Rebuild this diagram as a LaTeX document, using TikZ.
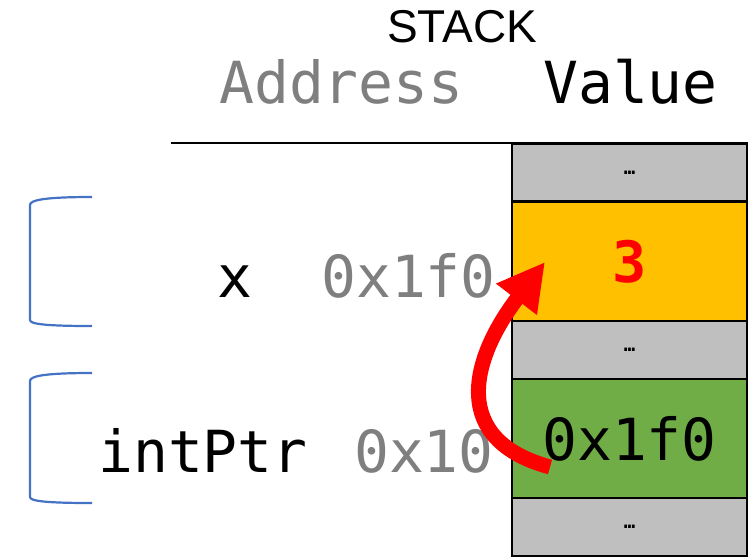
\documentclass[tikz,border=0pt]{standalone}
\usepackage{fontspec}
\setmainfont{Liberation Sans}
\newfontfamily\monof{DejaVu Sans Mono}
\usetikzlibrary{arrows.meta}
\definecolor{cellgray}{HTML}{BFBFBF}
\definecolor{cellorange}{HTML}{FFC000}
\definecolor{cellgreen}{HTML}{70AD47}
\definecolor{addrgray}{HTML}{7F7F7F}
\definecolor{brblue}{HTML}{4472C4}
\begin{document}
\begin{tikzpicture}[x=1pt,y=-1pt,
  cell/.style={draw=black,line width=2.5pt,minimum width=235pt,inner sep=0pt,font=\monof\fontsize{58}{60}\selectfont},
  dotcell/.style={cell,fill=cellgray,minimum height=58pt,font=\monof\bfseries\fontsize{19}{20}\selectfont},
  bigmono/.style={inner sep=0pt,font=\monof\fontsize{58}{60}\selectfont},
  addr/.style={bigmono,text=addrgray},
  brace/.style={draw=brblue,line width=2.2pt},
  ptr/.style={draw=red,line width=15pt,-{Triangle[length=47pt,width=48pt]}}]
\useasboundingbox (0,0) rectangle (755,558);
% title
\node[inner sep=0pt,anchor=base,font=\fontsize{46}{48}\selectfont] (title) at (462,42) {STACK};
\node[addr,anchor=base west] (haddr) at (219,103) {Address};
\node[bigmono,anchor=base west] (hval) at (543,103) {Value};
% separator
\coordinate (sepL) at (171,143);
\coordinate (sepR) at (512,143);
\draw[line width=2pt] (sepL) -- (sepR);
% cells
\node[dotcell] (c1) at (629.5,172.5) {…};
\node[cell,fill=cellorange,minimum height=119pt,text=red,font=\monof\bfseries\fontsize{57}{59}\selectfont] (c2) at (629.5,261.5) {3};
\node[dotcell] (c3) at (629.5,350) {…};
\node[cell,fill=cellgreen,minimum height=119pt] (c4) at (629.5,438.5) {0x1f0};
\node[dotcell] (c5) at (629.5,527) {…};
% labels
\node[bigmono,anchor=base west] (xname) at (217,297) {x};
\node[addr,anchor=base east] (xaddr) at (496,297) {0x1f0};
\node[bigmono,anchor=base west] (pname) at (98,472) {intPtr};
\node[addr,anchor=base east] (paddr) at (494,472) {0x10};
% brackets
\draw[brace] (92,197) .. controls (45,197) and (30,200) .. (30,205) -- (30,320) .. controls (30,324) and (45,326) .. (92,326);
\draw[brace] (92,373) .. controls (45,373) and (30,376) .. (30,381) -- (30,497) .. controls (30,501) and (45,503) .. (92,503);
% pointer arrow
\coordinate (ptrstart) at (550,467);
\coordinate (ptrtip) at (545,262);
\draw[ptr] (ptrstart) .. controls (450,440) and (470,360) .. (ptrtip);
\end{tikzpicture}
\end{document}
